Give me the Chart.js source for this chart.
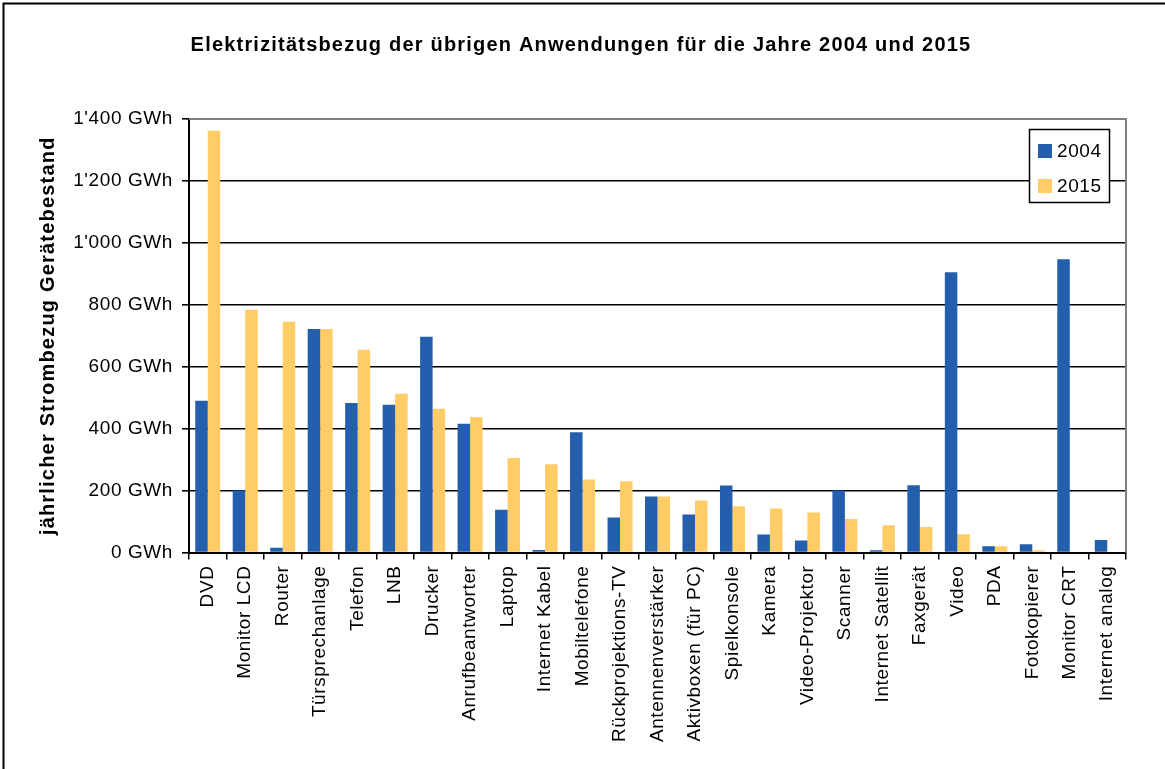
<!DOCTYPE html>
<html>
<head>
<meta charset="utf-8">
<script src="https://cdn.jsdelivr.net/npm/chart.js@4"></script>
<style>
  html, body { margin: 0; padding: 0; background: #fff; }
  canvas { display: block; }
</style>
</head>
<body>
<canvas id="c" width="1165" height="769"></canvas>
<script>
const categories = ["DVD", "Monitor LCD", "Router", "Türsprechanlage", "Telefon", "LNB", "Drucker",
  "Anrufbeantworter", "Laptop", "Internet Kabel", "Mobiltelefone", "Rückprojektions-TV",
  "Antennenverstärker", "Aktivboxen (für PC)", "Spielkonsole", "Kamera", "Video-Projektor",
  "Scanner", "Internet Satellit", "Faxgerät", "Video", "PDA", "Fotokopierer", "Monitor CRT",
  "Internet analog"];
const values2004 = [490, 200, 15, 722, 483, 477, 697, 416, 138, 8, 388, 113, 181, 123, 216, 58, 39,
  200, 7, 217, 905, 20, 27, 947, 40];
const values2015 = [1362, 784, 745, 722, 655, 513, 464, 438, 305, 285, 236, 230, 181, 168, 149, 142, 129,
  108, 88, 82, 59, 20, 7, 0, 0];
const seriesLabels = ["2004", "2015"];
const yTickValues = [0, 200, 400, 600, 800, 1000, 1200, 1400];
const yTickLabels = ["0 GWh", "200 GWh", "400 GWh", "600 GWh", "800 GWh", "1'000 GWh", "1'200 GWh", "1'400 GWh"];
const titleText = "Elektrizitätsbezug der übrigen Anwendungen für die Jahre 2004 und 2015";
const yTitleText = "jährlicher Strombezug Gerätebestand";

const COLORS = ["#235FAD", "#FFCC66"];
const FONT = "'Liberation Sans', Arial, sans-serif";
const SPACING = "0.6px";
const BOLD_SPACING = "1.2px";

function withSpacing(obj, fnName, spacing) {
  if (!obj || obj['__sp_' + fnName]) return;
  const orig = obj[fnName];
  obj[fnName] = function (...args) {
    const ctx = this.ctx;
    const prev = ctx.letterSpacing;
    ctx.letterSpacing = spacing;
    const r = orig.apply(this, args);
    ctx.letterSpacing = prev;
    return r;
  };
  obj['__sp_' + fnName] = true;
}

const spacingPlugin = {
  id: 'spacing',
  beforeUpdate(chart) { chart.ctx.letterSpacing = SPACING; },
  beforeRender(chart) { chart.ctx.letterSpacing = SPACING; },
  beforeDraw(chart) {
    chart.ctx.letterSpacing = SPACING;
    withSpacing(chart.scales.y, 'drawTitle', BOLD_SPACING);
    withSpacing(chart.titleBlock, 'draw', BOLD_SPACING);
  }
};

const framePlugin = {
  id: 'frame',
  afterDatasetsDraw(chart) {
    const ctx = chart.ctx;
    const a = chart.chartArea;
    ctx.save();
    ctx.strokeStyle = "#808080";
    ctx.lineWidth = 2;
    ctx.beginPath();
    ctx.moveTo(a.left, a.top);
    ctx.lineTo(a.right, a.top);
    ctx.lineTo(a.right, a.bottom);
    ctx.stroke();
    ctx.restore();
  },
  afterDraw(chart) {
    const ctx = chart.ctx;
    ctx.save();
    ctx.strokeStyle = "#000";
    ctx.lineWidth = 2;
    ctx.strokeRect(3.5, 3.5, 1300, 900);
    const lx = 1029, ly = 129, lw = 80, lh = 73;
    ctx.fillStyle = "#fff";
    ctx.fillRect(lx, ly, lw, lh);
    ctx.strokeStyle = "#000";
    ctx.lineWidth = 1.5;
    ctx.strokeRect(lx + 0.5, ly + 0.5, lw, lh);
    ctx.font = "19px " + FONT;
    ctx.letterSpacing = SPACING;
    ctx.textBaseline = "middle";
    ctx.textAlign = "left";
    const rows = [151, 186];
    chart.data.datasets.forEach((ds, i) => {
      ctx.fillStyle = ds.backgroundColor;
      ctx.fillRect(lx + 9, rows[i] - 7, 14, 14);
      ctx.fillStyle = "#000";
      ctx.fillText(ds.label, lx + 28, rows[i] + 1);
    });
    ctx.restore();
  }
};

new Chart(document.getElementById('c'), {
  type: 'bar',
  data: {
    labels: categories,
    datasets: [
      { label: seriesLabels[0], data: values2004, backgroundColor: COLORS[0] },
      { label: seriesLabels[1], data: values2015, backgroundColor: COLORS[1] }
    ]
  },
  plugins: [spacingPlugin, framePlugin],
  options: {
    responsive: false,
    animation: false,
    devicePixelRatio: 1,
    layout: { padding: { top: 10, left: 36, right: 39, bottom: 0 } },
    datasets: { bar: { categoryPercentage: 0.667, barPercentage: 1.0 } },
    plugins: {
      legend: { display: false },
      tooltip: { enabled: false },
      title: {
        display: true,
        text: titleText,
        color: "#000",
        font: { family: FONT, size: 20, weight: 'bold', lineHeight: 1.2 },
        padding: { top: 23, bottom: 62 }
      }
    },
    scales: {
      x: {
        grid: {
          offset: true,
          drawOnChartArea: false,
          drawTicks: true,
          tickLength: 7,
          color: "#000",
          lineWidth: 1.5
        },
        border: { color: "#000", width: 2 },
        ticks: {
          autoSkip: false,
          minRotation: 90,
          maxRotation: 90,
          padding: 6,
          color: "#000",
          font: { family: FONT, size: 19 }
        },
        afterFit(scale) { scale.height = 216.5; }
      },
      y: {
        min: 0,
        max: 1400,
        afterBuildTicks(scale) { scale.ticks = yTickValues.map(v => ({ value: v })); },
        grid: {
          color: "#000",
          lineWidth: 1.6,
          drawTicks: true,
          tickLength: 7
        },
        border: { color: "#000", width: 2 },
        ticks: {
          padding: 9,
          color: "#000",
          font: { family: FONT, size: 19 },
          callback: (v) => yTickLabels[yTickValues.indexOf(v)]
        },
        title: {
          display: true,
          text: yTitleText,
          color: "#000",
          font: { family: FONT, size: 20, weight: 'bold', lineHeight: 1.2 },
          padding: { top: 0, bottom: 0 }
        },
        afterFit(scale) { scale.width = 153; }
      }
    }
  }
});
</script>
</body>
</html>
